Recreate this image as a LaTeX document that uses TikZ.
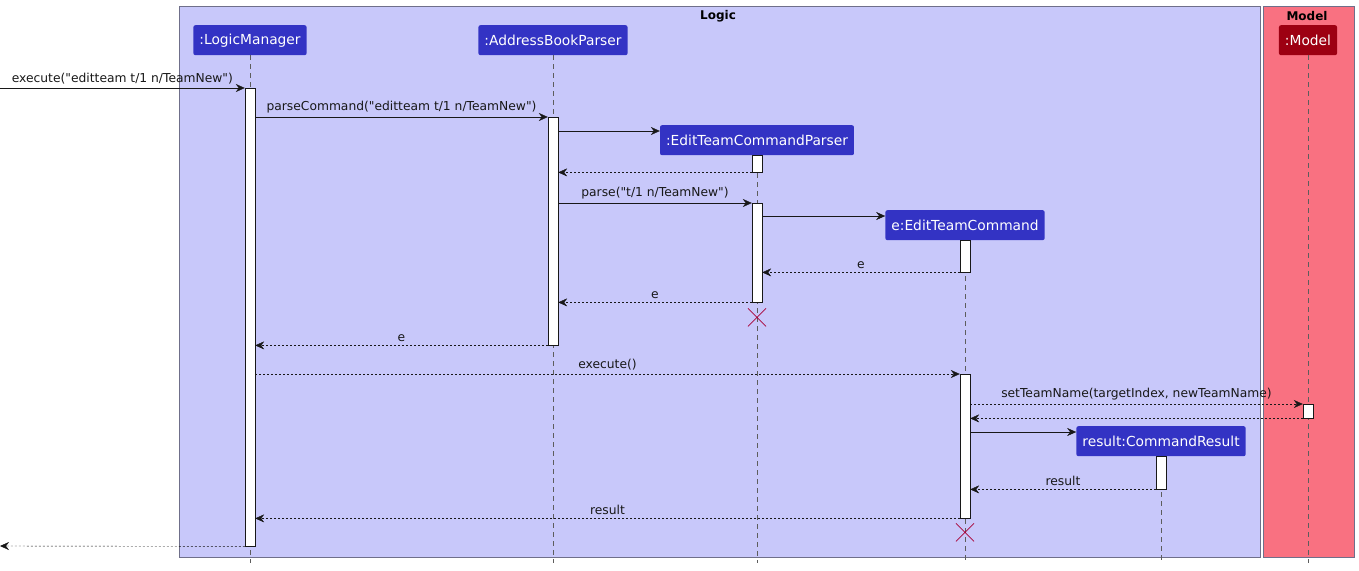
\documentclass[tikz,border=0pt]{standalone}
\usepackage{fontspec}
\setmainfont{DejaVu Sans}[Ligatures=TeXOff]
\usetikzlibrary{arrows.meta}
\definecolor{logicc}{HTML}{3333C4}
\definecolor{logict}{HTML}{C8C8FA}
\definecolor{modelc}{HTML}{9D0012}
\definecolor{modelt}{HTML}{F97181}
\definecolor{boxline}{HTML}{6F6F8A}
\definecolor{destroyc}{HTML}{A80036}
\definecolor{ink}{HTML}{181818}
\newcommand{\dq}{\char34\relax}
\begin{document}
\begin{tikzpicture}[x=1pt,y=-1pt,font=\fontsize{12.3}{14}\selectfont,
part/.style={rectangle,rounded corners=2pt,text=white,minimum height=30pt,inner xsep=6pt,font=\fontsize{13.8}{16}\selectfont,anchor=north},
act/.style={draw=ink,fill=white,rectangle,minimum width=10pt,inner sep=0pt,anchor=north,thin},
life/.style={draw=ink!70,dash pattern=on 5pt off 4pt,thin},
call/.style={draw=ink,-{Stealth[length=9pt,width=8pt,inset=3pt]},thin},
reply/.style={call,dash pattern=on 2pt off 2pt},
lbl/.style={above=3pt,text=ink,inner sep=1pt},
kill/.style={draw=destroyc,thick}]

\useasboundingbox (0,0) rectangle (1359,570);

% boxes
\draw[fill=logict,draw=boxline] (179,6) rectangle (1260,557);
\draw (718,16) node[font=\fontsize{12}{14}\selectfont\bfseries] (T1) {Logic};
\draw[fill=modelt,draw=boxline] (1263,6) rectangle (1354,557);
\draw (1307,16) node[font=\fontsize{12}{14}\selectfont\bfseries] (T2) {Model};

\coordinate (bot) at (0,563);
\coordinate (in) at (0,88);
\coordinate (out) at (0,546);

% participants
\draw (250,25) node[part,fill=logicc] (LM) {:LogicManager};
\draw (553,25) node[part,fill=logicc] (ABP) {:AddressBookParser};
\draw (757,125) node[part,fill=logicc] (ETCP) {:EditTeamCommandParser};
\draw (965,210) node[part,fill=logicc] (ETC) {e:EditTeamCommand};
\draw (1161,426) node[part,fill=logicc] (CR) {result:CommandResult};
\draw (1308,25) node[part,fill=modelc] (M) {:Model};

% lifelines
\foreach \p in {LM,ABP,ETCP,ETC,CR,M}
  \draw[life] (\p.south) -- (\p.south |- bot);

% activations
\draw (250,88) node[act,minimum height=458pt] (A1) {};
\draw (553,117) node[act,minimum height=228pt] (A2) {};
\draw (757,155) node[act,minimum height=17pt] (A3) {};
\draw (757,203) node[act,minimum height=99pt] (A4) {};
\draw (965,240) node[act,minimum height=32pt] (A5) {};
\draw (965,374) node[act,minimum height=144pt] (A6) {};
\draw (1308,404) node[act,minimum height=14pt] (A7) {};
\draw (1161,456) node[act,minimum height=33pt] (A8) {};

% messages
\draw[call] (in) -- (A1.north west) node[midway,lbl] {execute(\dq editteam t/1 n/TeamNew\dq)};
\draw[call] (A1.east |- A2.north) -- (A2.north west) node[midway,lbl] {parseCommand(\dq editteam t/1 n/TeamNew\dq)};
\draw[call] (A2.east |- 0,131) -- (ETCP.west |- 0,131);
\draw[reply] (A3.south west) -- (A2.east |- A3.south);
\draw[call] (A2.east |- A4.north) -- (A4.north west) node[midway,lbl] {parse(\dq t/1 n/TeamNew\dq)};
\draw[call] (A4.east |- 0,216) -- (ETC.west |- 0,216);
\draw[reply] (A5.south west) -- (A4.east |- A5.south) node[midway,lbl] {e};
\draw[reply] (A4.south west) -- (A2.east |- A4.south) node[midway,lbl] {e};
\draw[reply] (A2.south west) -- (A1.east |- A2.south) node[midway,lbl] {e};
\draw[reply] (A1.east |- A6.north) -- (A6.north west) node[midway,lbl] {execute()};
\draw[reply] (A6.east |- A7.north) -- (A7.north west) node[midway,lbl] {setTeamName(targetIndex, newTeamName)};
\draw[reply] (A7.south west) -- (A6.east |- A7.south);
\draw[call] (A6.east |- 0,432) -- (CR.west |- 0,432);
\draw[reply] (A8.south west) -- (A6.east |- A8.south) node[midway,lbl] {result};
\draw[reply] (A6.south west) -- (A1.east |- A6.south) node[midway,lbl] {result};
\draw[reply] (A1.south west) -- (out);

% destroyed
\draw[kill] (A4.south) ++(-9,6) -- ++(18,18) ++(0,-18) -- ++(-18,18);
\draw[kill] (A6.south) ++(-9,5) -- ++(18,18) ++(0,-18) -- ++(-18,18);

\end{tikzpicture}
\end{document}
